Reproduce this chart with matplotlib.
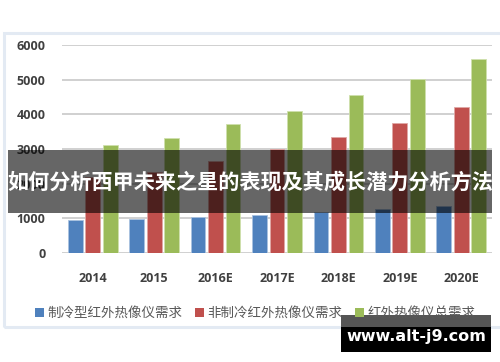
import matplotlib.pyplot as plt
from matplotlib.patches import Rectangle
import numpy as np

# datos
years = ['2014', '2015', '2016E', '2017E', '2018E', '2019E', '2020E']
cooled = [950, 980, 1040, 1100, 1180, 1260, 1350]
uncooled = [2180, 2340, 2660, 3000, 3360, 3740, 4220]
total = [3110, 3320, 3710, 4100, 4560, 5010, 5590]
series_names = ['制冷型红外热像仪需求', '非制冷红外热像仪需求', '红外热像仪总需求']
y_ticks = [0, 1000, 2000, 3000, 4000, 5000, 6000]

title = '如何分析西甲未来之星的表现及其成长潜力分析方法'
watermark = 'www.alt-j9.com'

W, H = 500, 362

def fx(x):
    return x / W

def fy(y):
    return 1 - y / H

fig = plt.figure(figsize=(5, 3.62), dpi=100)
fig.patch.set_facecolor('white')

# marco de la imagen del grafico
frame = Rectangle((fx(4), fy(327)), fx(520) - fx(4), fy(33) - fy(327),
                  transform=fig.transFigure, facecolor='none',
                  edgecolor='#e3eaf3', linewidth=2.2, zorder=-1)
fig.add_artist(frame)

ax = fig.add_axes([fx(62), fy(253), fx(492) - fx(62), fy(45) - fy(253)])
ax.patch.set_visible(False)

x = np.arange(len(years))
w = 0.24
off = 0.285
colors = ['#4f81bd', '#c0504d', '#9bbb59']
edges = ['#a9c2e0', '#e0a8a6', '#cfe0ad']
bars = []
for i, vals in enumerate([cooled, uncooled, total]):
    b = ax.bar(x + (i - 1) * off, vals, width=w, color=colors[i],
               edgecolor=edges[i], linewidth=0.6, zorder=3)
    bars.append(b)

ax.set_xlim(-0.5, len(years) - 0.5)
ax.set_ylim(0, 6000)
ax.set_yticks(y_ticks)
ax.set_yticklabels([str(v) for v in y_ticks])
ax.set_xticks(x)
ax.set_xticklabels(years)
ax.grid(axis='y', color='#c8c8c8', linewidth=1.2, zorder=0)
ax.set_axisbelow(True)
for s in ax.spines.values():
    s.set_visible(False)
ax.tick_params(length=0, labelsize=9, labelcolor='#404040')
ax.tick_params(axis='y', pad=12)
ax.tick_params(axis='x', pad=14)
for lab in ax.get_xticklabels() + ax.get_yticklabels():
    lab.set_family(['Open Sans', 'DejaVu Sans'])
    lab.set_fontweight('bold')

leg = fig.legend(bars, series_names, loc='center', ncol=3,
                 bbox_to_anchor=(fx(255), fy(313)), frameon=False,
                 prop={'family': ['Noto Sans CJK SC', 'DejaVu Sans'], 'size': 9.7},
                 handlelength=0.7, handleheight=0.7, handletextpad=0.25,
                 columnspacing=0.9, borderpad=0)
for t in leg.get_texts():
    t.set_color('#595959')
for h in leg.legend_handles:
    h.set_edgecolor('none')

# banda del titulo
band = Rectangle((fx(8), fy(213)), fx(492) - fx(8), fy(150) - fy(213),
                 transform=fig.transFigure, facecolor='black', alpha=0.6,
                 edgecolor='none', zorder=5)
fig.add_artist(band)
fig.text(fx(250), fy(182), title, color='white', fontsize=15.2,
         fontweight='bold', ha='center', va='center', zorder=6,
         family=['Noto Sans CJK SC', 'DejaVu Sans'])

# marca de agua
wm1 = Rectangle((fx(341), fy(327)), fx(491) - fx(341), fy(315) - fy(327),
                transform=fig.transFigure, facecolor='#555555',
                edgecolor='none', zorder=5)
wm2 = Rectangle((fx(341), fy(352)), fx(491) - fx(341), fy(327) - fy(352),
                transform=fig.transFigure, facecolor='black',
                edgecolor='none', zorder=5)
fig.add_artist(wm1)
fig.add_artist(wm2)
fig.text(fx(416), fy(337), watermark, color='white', fontsize=11.5,
         fontweight='bold', ha='center', va='center', zorder=6,
         family=['DejaVu Sans'])

fig.savefig('out.png', dpi=100)
